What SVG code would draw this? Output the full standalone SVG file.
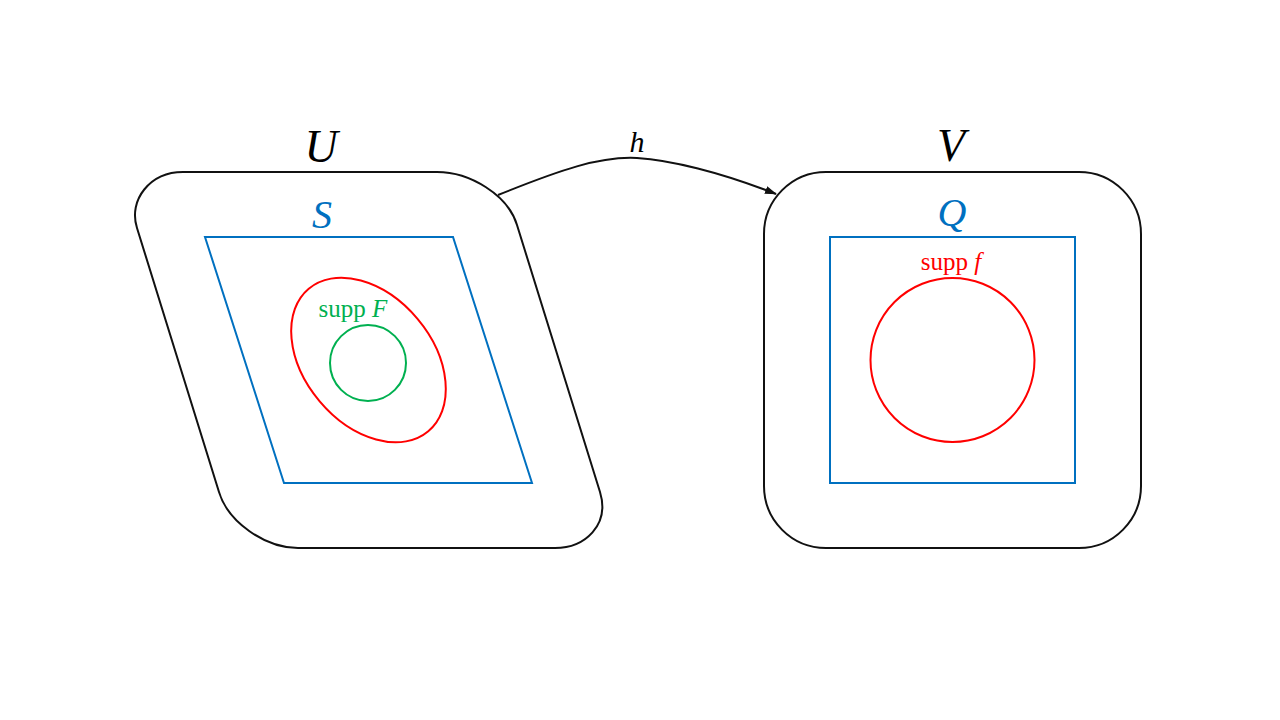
<svg xmlns="http://www.w3.org/2000/svg" width="1280" height="720" viewBox="0 0 1280 720">
<defs>
<style>
.outer{fill:none;stroke:#111;stroke-width:2}
.blue{fill:none;stroke:#0070C0;stroke-width:2}
.red{fill:none;stroke:#FF0000;stroke-width:2}
.green{fill:none;stroke:#00B050;stroke-width:2}
.math{font-family:"Liberation Serif","DejaVu Serif",serif;font-style:italic;text-anchor:middle}
.lbl{font-family:"Liberation Serif","DejaVu Serif",serif;text-anchor:middle}
</style>
<marker id="arr" markerWidth="12" markerHeight="8" refX="11" refY="4" orient="auto" markerUnits="userSpaceOnUse">
<path d="M0,0 L12,4 L0,8 Z" fill="#111"/>
</marker>
</defs>
<rect width="1280" height="720" fill="#fff"/>
<g id="U">
<path class="outer" d="M183,172 L437,172 C470,172 508,195 517,225 L600,492 C610,525 585,548 555,548 L298,548 C265,548 228,522 219,492 L137,228 C128,200 150,172 183,172 Z"/>
<text class="math" x="321" y="162" font-size="46" fill="#000">U</text>
</g>
<g id="S">
<path class="blue" d="M205,237 L453,237 L532,483 L284,483 Z"/>
<text class="math" x="322" y="228" font-size="40" fill="#0070C0">S</text>
</g>
<g id="suppF-outer">
<ellipse class="red" cx="368.5" cy="360" rx="93" ry="64" transform="rotate(50 368.5 360)"/>
</g>
<g id="suppF">
<circle class="green" cx="368" cy="363" r="38"/>
<text class="lbl" x="353" y="317" font-size="25" fill="#00B050">supp <tspan font-style="italic">F</tspan></text>
</g>
<g id="V">
<rect class="outer" x="764" y="172" width="377" height="376" rx="62" ry="62"/>
<text class="math" x="951" y="161" font-size="46" fill="#000">V</text>
</g>
<g id="Q">
<rect class="blue" x="830" y="237" width="245" height="246"/>
<text class="math" x="952" y="226" font-size="40" fill="#0070C0">Q</text>
</g>
<g id="suppf">
<circle class="red" cx="952.5" cy="360" r="82"/>
<text class="lbl" x="951" y="270" font-size="25" fill="#FF0000">supp <tspan font-style="italic">f</tspan></text>
</g>
<g id="connectors">
<path d="M498,195 C560,170 600,156 637,158 C670,160 720,172 776,194" fill="none" stroke="#111" stroke-width="2" marker-end="url(#arr)"/>
<text class="math" x="637" y="152" font-size="30" fill="#000">h</text>
</g>
</svg>
